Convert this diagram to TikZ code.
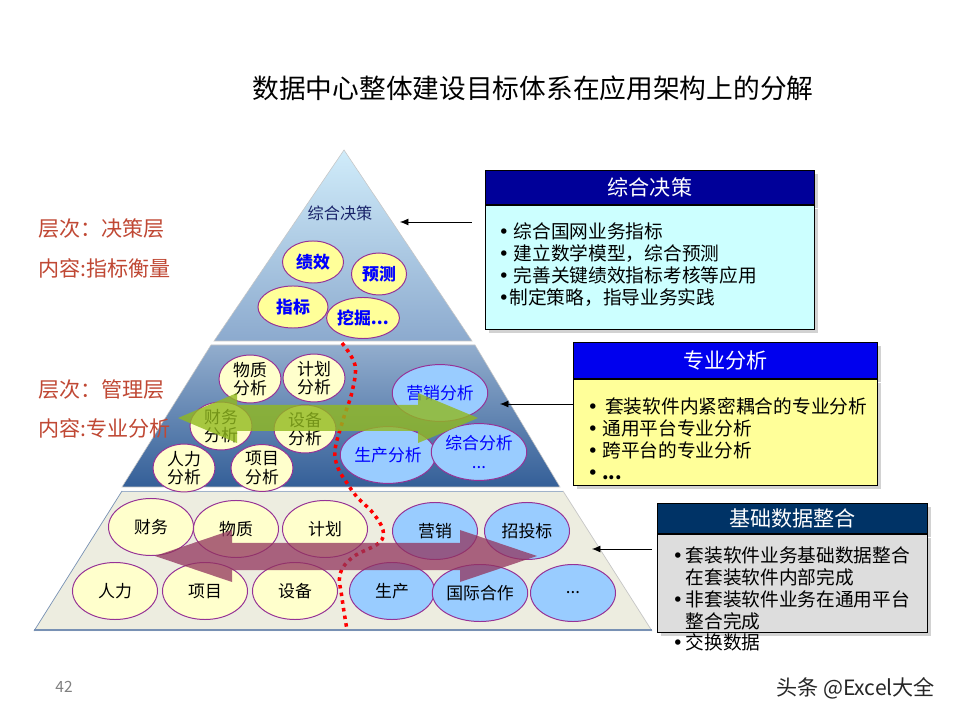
\documentclass[tikz,border=0pt]{standalone}
\usepackage{fontspec}
\setmainfont{Noto Sans CJK SC}
\newfontfamily\bulfont{DejaVu Sans}
\usetikzlibrary{shapes.geometric,arrows.meta,shadows}
\definecolor{elledge}{RGB}{150,50,150}
\definecolor{ellyellow}{RGB}{255,255,153}
\definecolor{ellcream}{RGB}{255,255,204}
\definecolor{ellblue}{RGB}{153,204,255}
\definecolor{tiertoptop}{RGB}{208,236,250}
\definecolor{tiertopbot}{RGB}{140,170,206}
\definecolor{tiermidtop}{RGB}{146,173,205}
\definecolor{tiermidbot}{RGB}{52,95,152}
\definecolor{tierbase}{RGB}{237,237,224}
\definecolor{tieredge}{RGB}{120,145,180}
\definecolor{labelred}{RGB}{192,72,52}
\definecolor{navytext}{RGB}{25,35,105}
\definecolor{greenflow}{RGB}{145,185,30}
\definecolor{mauveflow}{RGB}{145,51,93}
\definecolor{headA}{RGB}{0,0,153}
\definecolor{headB}{RGB}{0,0,238}
\definecolor{headC}{RGB}{0,51,102}
\definecolor{bodyA}{RGB}{204,255,255}
\definecolor{bodyB}{RGB}{255,255,153}
\definecolor{bodyC}{RGB}{221,221,221}
\newcommand{\tbul}[1][11pt]{\makebox[#1][l]{\bulfont •}}
\begin{document}
\begin{tikzpicture}[x=0.025cm,y=-0.025cm,
            ell/.style={ellipse, draw=elledge, line width=0.7pt, inner sep=0pt, align=center, font=\fontsize{12}{13}\selectfont},
            topell/.style={ell, fill=ellyellow, text=blue, font=\fontsize{12}{13}\selectfont\bfseries},
            midcream/.style={ell, fill=ellcream, minimum width=1.55cm, minimum height=0.975cm},
            midblue/.style={ell, fill=ellblue, text=blue, minimum width=2.1cm, minimum height=1.42cm},
            basecream/.style={ell, fill=ellcream, minimum width=2.125cm, minimum height=1.425cm},
            baseblue/.style={ell, fill=ellblue, minimum width=2.125cm, minimum height=1.425cm},
            lbl/.style={text=labelred, font=\fontsize{15}{18}\selectfont, anchor=west, inner sep=0pt},
            headbox/.style={draw=black, line width=0.6pt, text=white, inner sep=0pt, anchor=north west, font=\fontsize{15}{18}\selectfont, drop shadow={shadow xshift=2.5pt, shadow yshift=-2.5pt, opacity=0.35}},
            bodybox/.style={draw=black, line width=0.6pt, inner sep=0pt, anchor=north west, drop shadow={shadow xshift=2.5pt, shadow yshift=-2.5pt, opacity=0.35}},
            bodytxt/.style={anchor=west, inner sep=0pt, align=left, font=\fontsize{13.3}{15.6}\selectfont},
            ptr/.style={-{Latex[length=6pt,width=5pt]}, line width=0.6pt}
            ]
            \fill[white] (0,0) rectangle (960,720);
            \useasboundingbox (0,0) rectangle (960,720);

            \node (title) at (533,88) {\fontsize{19}{22}\selectfont 数据中心整体建设目标体系在应用架构上的分解};

            \shade[top color=tiertoptop, bottom color=tiertopbot, draw=gray!45, line width=0.4pt] (344,150) -- (472,341) -- (214,341) -- cycle;
            \shade[top color=tiermidtop, bottom color=tiermidbot, draw=gray!45, line width=0.4pt] (211,345) -- (475,345) -- (560,487) -- (122,487) -- cycle;
            \fill[tierbase] (122,491) -- (563,491) -- (652,631) -- (34,631) -- cycle;
            \draw[tieredge!70, line width=0.5pt] (122,491) -- (563,491);
            \draw[tieredge, line width=0.5pt] (122,491) -- (34,631);
            \draw[gray!45, line width=0.5pt] (563,491) -- (652,631);
            \draw[tieredge, line width=1.2pt] (34,630) -- (652,630);

            \node[text=navytext, font=\fontsize{11.5}{13}\selectfont] (zhjclbl) at (340,213) {综合决策};
            \node[topell, minimum width=1.525cm, minimum height=1.05cm] (jx) at (313,262) {绩效};
            \node[topell, minimum width=1.375cm, minimum height=1.05cm] (yc) at (379,274) {预测};
            \node[topell, minimum width=1.75cm, minimum height=1.05cm] (zb) at (293,307) {指标};
            \node[topell, minimum width=1.75cm, minimum height=1.025cm] (wj) at (363,318) {挖掘...};

            \node[midcream] (wzfx) at (250,379) {物质\\分析};
            \node[midcream] (jhfx) at (314,378) {计划\\分析};
            \node[midcream] (cwfx) at (221,426) {财务\\分析};
            \node[midcream] (sbfx) at (305,429) {设备\\分析};
            \node[midcream] (rlfx) at (184,468) {人力\\分析};
            \node[midcream] (xmfx) at (262,468) {项目\\分析};
            \node[midblue] (yxfx) at (440,393) {营销分析};
            \node[midblue] (scfx) at (388,455) {生产分析};
            \node[midblue] (zhfx) at (479,452) {综合分析\\...};

            \node[basecream] (cw) at (151,527) {财务};
            \node[basecream] (wz) at (236,529) {物质};
            \node[basecream] (jh) at (325,529) {计划};
            \node[basecream] (rl) at (115,591) {人力};
            \node[basecream] (xm) at (205,591) {项目};
            \node[basecream] (sb) at (295,591) {设备};
            \node[baseblue] (yx) at (435,531) {营销};
            \node[baseblue] (ztb) at (527,531) {招投标};
            \node[baseblue] (sc) at (392,591) {生产};
            \node[baseblue] (gjhz) at (480,593) {国际合作};
            \node[baseblue] (more) at (573,593) {...};

            \draw[red, line width=2.5pt, dash pattern=on 2.5pt off 3pt] plot[smooth, tension=0.6] coordinates {(342,343) (355,365) (352,392) (343,420) (335,450) (338,468) (347,483) (357,497) (373,513) (383,530) (379,543) (353,557) (340,574) (342,598) (347,630)};

            \fill[greenflow, fill opacity=0.8] (178,418) -- (237,393) -- (237,405) -- (418,405) -- (418,393) -- (478,418) -- (418,443) -- (418,431) -- (237,431) -- (237,443) -- cycle;
            \fill[mauveflow, fill opacity=0.75] (155,556) -- (232,530) -- (232,543) -- (460,543) -- (460,530) -- (537,556) -- (460,582) -- (460,570) -- (232,570) -- (232,582) -- cycle;

            \node[lbl] (cc1) at (38,229) {层次：决策层};
            \node[lbl] (nr1) at (38,268) {内容:指标衡量};
            \node[lbl] (cc2) at (38,390) {层次：管理层};
            \node[lbl] (nr2) at (38,428) {内容:专业分析};

            \node[headbox, fill=headA, minimum width=8.225cm, minimum height=0.85cm] (zhjc) at (485,170) {综合决策};
            \node[bodybox, fill=bodyA, minimum width=8.225cm, minimum height=3.1cm] (zhjcb) at (zhjc.south west) {};
            \node[bodytxt] (zhjct) at (498,265) {\tbul 综合国网业务指标\\ \tbul 建立数学模型，综合预测\\ \tbul 完善关键绩效指标考核等应用\\ \tbul[8pt]制定策略，指导业务实践};

            \node[headbox, fill=headB, minimum width=7.6cm, minimum height=0.9cm] (zyfx) at (573,342) {专业分析};
            \node[bodybox, fill=bodyB, minimum width=7.6cm, minimum height=2.65cm] (zyfxb) at (zyfx.south west) {};
            \node[bodytxt] (zyfxt) at (587,439) {\tbul[12.8pt]套装软件内紧密耦合的专业分析\\ \tbul[10.7pt]通用平台专业分析\\ \tbul[10.7pt]跨平台的专业分析\\ \tbul[10.7pt]\textbf{...}};

            \node[headbox, fill=headC, minimum width=6.75cm, minimum height=0.75cm] (jcsj) at (657,503) {基础数据整合};
            \node[bodybox, fill=bodyC, minimum width=6.75cm, minimum height=2.45cm] (jcsjb) at (jcsj.south west) {};
            \node[bodytxt] (jcsjt) at (672,599) {\tbul[9.5pt]套装软件业务基础数据整合\\ \hspace*{9.5pt}在套装软件内部完成\\ \tbul[9.5pt]非套装软件业务在通用平台\\ \hspace*{9.5pt}整合完成\\ \tbul[9.5pt]交换数据};

            \coordinate (p1) at (400,222);
            \coordinate (p2) at (500,404);
            \coordinate (p3) at (592,549);
            \draw[ptr, shorten <=0.33cm] (zhjcb.west |- p1) -- (p1);
            \draw[ptr] (zyfxb.west |- p2) -- (p2);
            \draw[ptr, shorten <=0.12cm] (jcsjb.west |- p3) -- (p3);

            \node[text=gray, font=\fontsize{11}{13}\selectfont] (pg) at (64,687) {42};
            \node[anchor=east, text=black!85, font=\fontsize{15}{18}\selectfont] (wm) at (940,688) {头条 @Excel大全};
            \end{tikzpicture}
\end{document}
